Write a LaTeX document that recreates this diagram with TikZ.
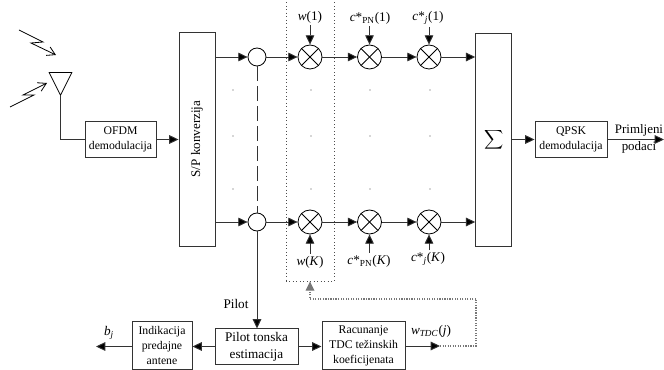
\documentclass[tikz,border=0pt]{standalone}
\usepackage{fontspec}
\setmainfont{Liberation Serif}
\usepackage{tikz}
\usetikzlibrary{shapes.geometric, arrows.meta, positioning, calc}
\definecolor{linecol}{HTML}{333333}
\definecolor{feedcol}{HTML}{777777}
\tikzset{
  block/.style={draw=linecol, line width=0.7pt, align=center, inner sep=0pt, fill=white},
  smalltext/.style={font=\fontsize{8.8}{11.2}\selectfont},
  bigtext/.style={font=\fontsize{9.9}{13}\selectfont},
  junction/.style={circle, draw=black, line width=0.6pt, minimum size=13.5pt, inner sep=0pt, fill=white},
  mixer/.style={circle, draw=black, line width=0.6pt, minimum size=18pt, inner sep=0pt, fill=white,
    path picture={
      \draw[line width=0.6pt] (path picture bounding box.north west) -- (path picture bounding box.south east);
      \draw[line width=0.6pt] (path picture bounding box.north east) -- (path picture bounding box.south west);
    }},
  signal/.style={draw=linecol, line width=0.7pt, -{Triangle[length=7pt,width=6.5pt,fill=black]}},
  feedback/.style={draw=feedcol, line width=0.9pt, densely dotted},
  label/.style={font=\fontsize{9.9}{12}\selectfont, inner sep=0pt},
}
\begin{document}
\begin{tikzpicture}[x=0.75pt, y=-0.75pt]
  \useasboundingbox (0,0) rectangle (664,370);
  \node[draw=black!70, line width=0.6pt, dotted, minimum width=36pt, minimum height=211.5pt, inner sep=0pt] (wgroup) at (310,140) {};

  \node[block, minimum width=27pt, minimum height=160pt] (sp) at (197,139.5) {};
  \node[font=\fontsize{9.8}{12}\selectfont, rotate=90, inner sep=0pt] (sptext) at (197,139) {S/P konverzija};
  \node[block, minimum width=27pt, minimum height=160pt, font=\fontsize{7.5}{10}\selectfont] (sum) at (493.7,140) {$\displaystyle\sum$};
  \node[block, smalltext, minimum width=53.3pt, minimum height=26.3pt] (ofdm) at (120.5,139.5) {OFDM\\demodulacija};
  \node[block, smalltext, minimum width=54pt, minimum height=26.3pt] (qpsk) at (571,139.5) {QPSK\\demodulacija};
  \node[block, bigtext, minimum width=62.3pt, minimum height=26.3pt] (pilotest) at (256.5,346.5) {Pilot tonska\\estimacija};
  \node[block, smalltext, minimum width=45pt, minimum height=35.3pt] (antind) at (162,345.5) {Indikacija\\predajne\\antene};
  \node[block, smalltext, minimum width=62.3pt, minimum height=35.3pt] (tdccalc) at (363.5,345.5) {Racunanje\\TDC težinskih\\koeficijenata};

  \node[draw=black, line width=0.6pt, isosceles triangle, isosceles triangle stretches, shape border rotate=-90,
        minimum width=17pt, minimum height=17pt, inner sep=0pt] (ant) at (60.5,79.5) {};
  \draw[draw=linecol, line width=0.7pt, -] (ant.apex) |- (ofdm.west);
  \draw[signal] (ofdm.east) -- (sp.west |- ofdm.east);
  \draw[signal] (sum.east |- qpsk.west) -- (qpsk.west);
  \coordinate (qpskout) at (664,139.5);
  \draw[signal] (qpsk.east) -- (qpskout);
  \node[font=\fontsize{9.7}{12.75}\selectfont, align=center, inner sep=0pt] (primljeni) at (639,138.5) {Primljeni\\podaci};

  \draw[black, line width=0.6pt, -{Straight Barb[length=6pt,width=7pt]}] (19,30) -- (43,42) -- (31,43) -- (56,55);
  \draw[black, line width=0.6pt, -{Straight Barb[length=6pt,width=7pt]}] (10,107) -- (34,95) -- (23,95) -- (47,83);

  \foreach \row/\y in {top/57, bot/222} {
    \node[junction] (j\row) at (257,\y) {};
    \foreach \col/\x in {w/310, pn/369.5, cj/429} {
      \node[mixer] (\col\row) at (\x,\y) {};
    }
    \draw[signal] (sp.east |- j\row) -- (j\row);
    \draw[signal] (j\row) -- (w\row);
    \draw[signal] (w\row) -- (pn\row);
    \draw[signal] (pn\row) -- (cj\row);
    \draw[signal] (cj\row) -- (sum.west |- cj\row);
  }
  \draw[draw=linecol, line width=0.7pt, dash pattern=on 11pt off 4pt] (jtop) -- (jbot);

  \foreach \x in {233, 311, 370, 430} {
    \foreach \y in {90, 136, 189} {
      \fill[black!70] (\x,\y) circle (0.4pt);
    }
  }

  \node[label] (wone) at (310,17) {\textit{w}(1)};
  \node[label] (pnone) at (370,18) {\textit{c}*\textsubscript{PN}(1)};
  \node[label] (cjone) at (428,18) {\textit{c}*\textsubscript{\textit{j}}(1)};
  \node[label] (wkay) at (310,262) {\textit{w}(\textit{K})};
  \node[label] (pnkay) at (369,261) {\textit{c}*\textsubscript{PN}(\textit{K})};
  \node[label] (cjkay) at (428,259) {\textit{c}*\textsubscript{\textit{j}}(\textit{K})};
  \foreach \src/\dst in {wone/wtop, pnone/pntop, cjone/cjtop} {
    \draw[signal, shorten <=1.5pt] (\src.south -| \dst) -- (\dst);
  }
  \foreach \src/\dst in {wkay/wbot, pnkay/pnbot, cjkay/cjbot} {
    \draw[signal, shorten <=1.5pt] (\src.north -| \dst) -- (\dst);
  }

  \draw[signal] (jbot) -- (jbot |- pilotest.north);
  \node[label] (pilotlab) at (236,304) {Pilot};
  \draw[signal] (pilotest.west) -- (pilotest.west -| antind.east);
  \coordinate (bjout) at (96,346.5);
  \draw[signal] (antind.west |- bjout) -- (bjout);
  \node[label] (bjlab) at (109,333) {\textit{b}\textsubscript{\textit{j}}};
  \draw[signal] (pilotest.east) -- (pilotest.east -| tdccalc.west);

  \coordinate (tdcout) at (440,346);
  \coordinate (feedturn) at (476,299);
  \draw[signal] (tdccalc.east |- tdcout) -- (tdcout);
  \node[label] (wtdc) at (431,331) {\textit{w}\textsubscript{\textit{TDC}}(\textit{j})};
  \draw[feedback] (tdcout) -| (feedturn);
  \draw[feedback, -{Triangle[length=7pt,width=6.5pt,fill=feedcol]}] (feedturn) -| (wgroup.south);
\end{tikzpicture}
\end{document}
